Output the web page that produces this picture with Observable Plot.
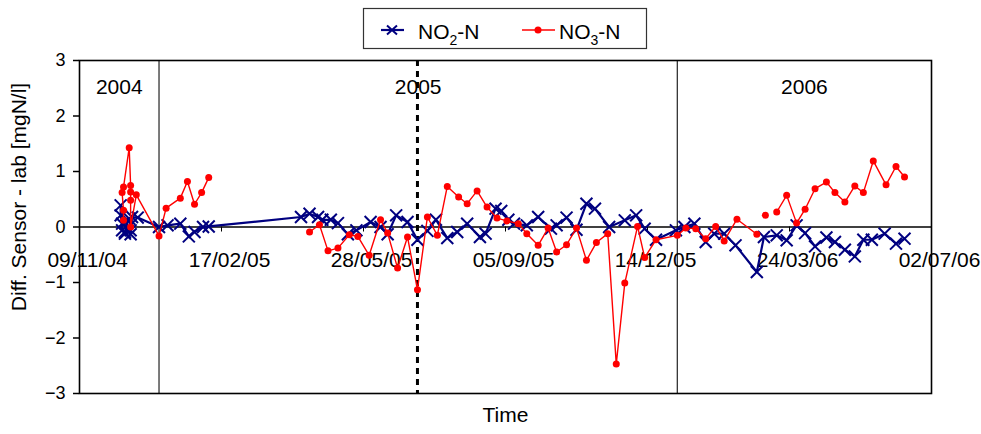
<!DOCTYPE html>
<html><head><meta charset="utf-8">
<script src="https://cdn.jsdelivr.net/npm/d3@7"></script>
<script src="https://cdn.jsdelivr.net/npm/@observablehq/plot@0.6"></script>
<style>
body{margin:0;background:#fff;font-family:"Liberation Sans",Arial,Helvetica,sans-serif;}
#wrap{position:relative;width:981px;height:434px;overflow:hidden;}
#legend{position:absolute;left:0;top:0;pointer-events:none;}
</style></head><body><div id="wrap"></div>
<script>
// ---- data ----
const no2Dates = ["2004-12-08","2004-12-08","2004-12-09","2004-12-09","2004-12-11","2004-12-11","2004-12-13","2004-12-14","2004-12-15","2004-12-15","2004-12-16","2004-12-20",
"2005-01-04","2005-01-10","2005-01-19","2005-01-25","2005-01-29","2005-02-04","2005-02-08",
"2005-04-14","2005-04-20","2005-04-26","2005-04-29","2005-05-05","2005-05-10","2005-05-17","2005-05-23","2005-06-02","2005-06-09","2005-06-14","2005-06-20","2005-06-28",
"2005-07-05","2005-07-12","2005-07-18","2005-07-26","2005-08-02","2005-08-09","2005-08-18","2005-08-22","2005-08-29","2005-09-02","2005-09-07","2005-09-11","2005-09-20","2005-09-28",
"2005-10-07","2005-10-11","2005-10-18","2005-10-25","2005-11-01","2005-11-07","2005-11-17","2005-11-28","2005-12-06","2005-12-12","2005-12-20",
"2006-01-03","2006-01-09","2006-01-16","2006-01-24","2006-01-30","2006-02-06","2006-02-14","2006-03-01","2006-03-06","2006-03-15","2006-03-22","2006-03-29",
"2006-04-04","2006-04-11","2006-04-19","2006-04-25","2006-05-02","2006-05-09","2006-05-15","2006-05-21","2006-05-30","2006-06-07","2006-06-13"];
const no2Values = [0.39,0.21,0.06,-0.06,-0.09,-0.12,0.12,0.15,-0.06,-0.13,0.18,0.17,
0.00,0.03,0.06,-0.17,-0.09,0.00,0.01,
0.18,0.24,0.18,0.13,0.13,0.07,-0.13,-0.06,0.09,0.00,-0.13,0.21,0.09,
-0.23,-0.07,0.13,-0.20,-0.09,0.06,-0.18,-0.12,0.33,0.29,0.13,0.06,0.03,0.18,
-0.03,0.03,0.17,-0.05,0.42,0.33,0.00,0.12,0.21,-0.03,-0.23,
-0.06,0.00,0.06,-0.27,-0.12,-0.12,-0.33,-0.81,-0.18,-0.15,-0.24,0.03,
-0.11,-0.35,-0.19,-0.27,-0.41,-0.53,-0.23,-0.23,-0.12,-0.30,-0.21];

const no3Dates = ["2004-12-10","2004-12-10","2004-12-09","2004-12-10","2004-12-14","2004-12-15","2004-12-15","2004-12-15","2004-12-15","2004-12-19",
"2005-01-04","2005-01-09","2005-01-19","2005-01-24","2005-01-29","2005-02-03","2005-02-08","2005-03-15",
"2005-04-20","2005-04-27","2005-05-03","2005-05-10","2005-05-18","2005-05-24","2005-06-01","2005-06-09","2005-06-14","2005-06-21","2005-06-28",
"2005-07-05","2005-07-12","2005-07-19","2005-07-26","2005-08-03","2005-08-09","2005-08-16","2005-08-23","2005-08-30","2005-09-06","2005-09-14","2005-09-20","2005-09-28",
"2005-10-05","2005-10-11","2005-10-18","2005-10-25","2005-11-01","2005-11-08","2005-11-16","2005-11-22","2005-11-28","2005-12-07","2005-12-12","2005-12-20",
"2006-01-04","2006-01-10","2006-01-17","2006-01-24","2006-01-31","2006-02-06","2006-02-15","2006-03-01","2006-03-04","2006-03-07","2006-03-11",
"2006-03-15","2006-03-22","2006-03-29","2006-04-04","2006-04-11","2006-04-19","2006-04-25","2006-05-02","2006-05-09","2006-05-15","2006-05-22","2006-05-31","2006-06-07","2006-06-13"];
const no3Values = [0.12,0.30,0.62,0.72,1.43,0.75,0.63,0.48,0.00,0.58,
-0.16,0.34,0.52,0.82,0.41,0.62,0.89,null,
-0.09,0.04,-0.43,-0.38,-0.14,-0.17,-0.51,0.13,-0.11,-0.74,-0.18,
-1.13,0.18,-0.15,0.73,0.54,0.42,0.65,0.36,0.16,0.11,0.06,-0.12,-0.33,
-0.02,-0.45,-0.32,-0.02,-0.60,-0.28,-0.12,-2.47,-1.01,0.01,-0.55,-0.23,
-0.15,-0.02,-0.03,-0.21,0.01,-0.25,0.14,-0.13,null,0.21,null,
0.27,0.57,0.07,0.32,0.69,0.81,0.62,0.45,0.74,0.62,1.19,0.76,1.09,0.90];

const xDomain = ["2004-11-09","2006-07-02"];
const tickDates = ["2004-11-09","2005-02-17","2005-05-28","2005-09-05","2005-12-14","2006-03-24","2006-07-02"];
const tickLabels = ["09/11/04","17/02/05","28/05/05","05/09/05","14/12/05","24/03/06","02/07/06"];
const yearBounds = ["2005-01-04","2006-01-04"];
const yearLabels = ["2004","2005","2006"];
const markerDate = "2005-07-05";
const yTicks = [-3,-2,-1,0,1,2,3];
const seriesNames = ["NO2-N","NO3-N"];

// ---- build tables ----
const parse = s => new Date(s + "T00:00:00Z");
const no2 = no2Dates.map((d,i)=>({date:parse(d), value:no2Values[i]}));
const no3 = no3Dates.map((d,i)=>({date:parse(d), value:no3Values[i]}));
const ticks = tickDates.map((d,i)=>({date:parse(d), label:tickLabels[i]}));
const edges = [parse(xDomain[0]), ...yearBounds.map(parse), parse(xDomain[1])];
const years = yearLabels.map((y,i)=>({mid:new Date((+edges[i] + +edges[i+1])/2), label:y}));

const BLUE = "#000080", RED = "#ff0000";
const fmt = d => d < 0 ? "\u2212" + Math.abs(d) : String(d);

const chart = Plot.plot({
  width: 981, height: 434,
  marginLeft: 79, marginRight: 50, marginTop: 60, marginBottom: 41,
  style: {fontFamily: '"Liberation Sans", Arial, Helvetica, sans-serif', fontSize: "21px", color: "black", background: "white", overflow: "visible"},
  x: {type: "utc", domain: xDomain.map(parse), axis: null},
  y: {domain: [-3, 3]},
  marks: [
    Plot.ruleX(yearBounds.map(parse), {stroke: "#333", strokeWidth: 1.3}),
    Plot.ruleX([parse(markerDate)], {stroke: "black", strokeWidth: 3, strokeDasharray: "6,5"}),
    Plot.ruleY([0], {stroke: "black", strokeWidth: 1.5}),
    Plot.ruleX(ticks, {x: "date", y1: 0, y2: 0, insetBottom: -5, stroke: "black", strokeWidth: 1}),
    Plot.text(ticks, {x: "date", y: 0, text: "label", dx: 8, dy: 33, fontSize: 21, fill: "black"}),
    Plot.text(years, {x: "mid", frameAnchor: "top", text: "label", dy: 19, fontSize: 21, fill: "black"}),
    Plot.axisY(yTicks, {tickSize: 6, tickPadding: 8, fontSize: 18, tickFormat: fmt, label: null, strokeWidth: 1.5}),
    Plot.text(["Time"], {frameAnchor: "bottom", dy: 28, fontSize: 21, fill: "black"}),
    Plot.text(["Diff. Sensor - lab [mgN/l]"], {frameAnchor: "left", textAnchor: "middle", dx: -60, dy: -30, rotate: -90, fontSize: 21, fill: "black"}),
    Plot.frame({stroke: "black", strokeWidth: 1.6}),
    Plot.line(no2, {x: "date", y: "value", stroke: BLUE, strokeWidth: 2.2}),
    Plot.dot(no2, {x: "date", y: "value", symbol: "times", r: 5.5, stroke: BLUE, strokeWidth: 2}),
    Plot.line(no3, {x: "date", y: "value", stroke: RED, strokeWidth: 1.4}),
    Plot.dot(no3, {x: "date", y: "value", r: 3.5, fill: RED, stroke: "none"})
  ]
});
const wrap = document.getElementById("wrap");
wrap.appendChild(chart);

// legend overlay
const lg = d3.select(wrap).append("svg").attr("id","legend").attr("width",981).attr("height",60)
  .style("font-family",'"Liberation Sans", Arial, Helvetica, sans-serif');
lg.append("rect").attr("x",363.5).attr("y",8.5).attr("width",283).attr("height",40).attr("fill","white").attr("stroke","#333").attr("stroke-width",1.2);
// NO2 sample
lg.append("line").attr("x1",381).attr("x2",404).attr("y1",30).attr("y2",30).attr("stroke",BLUE).attr("stroke-width",2.2);
lg.append("path").attr("d","M387,25.5L397,34.5M387,34.5L397,25.5").attr("stroke",BLUE).attr("stroke-width",2);
// NO3 sample
lg.append("line").attr("x1",522).attr("x2",555).attr("y1",30).attr("y2",30).attr("stroke",RED).attr("stroke-width",1.4);
lg.append("circle").attr("cx",538).attr("cy",30).attr("r",3.5).attr("fill",RED);
function subText(x, name){
  const m = name.match(/^(\D+)(\d)(.*)$/);
  const t = lg.append("text").attr("x",x).attr("y",38.5).attr("font-size",21).attr("fill","black");
  t.append("tspan").text(m[1]);
  t.append("tspan").attr("dy",6).attr("font-size",14).text(m[2]);
  t.append("tspan").attr("dy",-6).text(m[3]);
}
subText(418, seriesNames[0]);
subText(559, seriesNames[1]);
</script></body></html>
